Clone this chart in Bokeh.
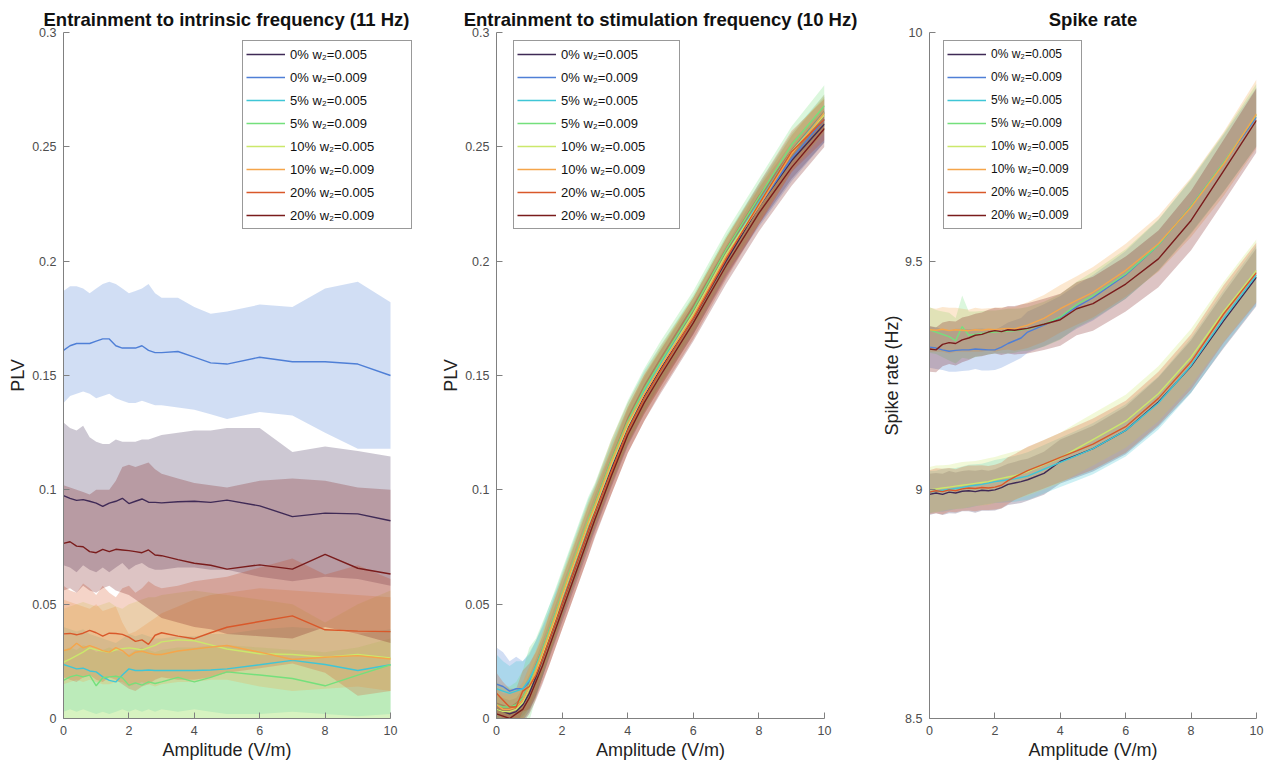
from bokeh.plotting import figure
from bokeh.models import Legend, LegendItem, FixedTicker, Range1d, Title
from bokeh.layouts import row
from bokeh.embed import file_html
from bokeh.resources import INLINE

# ---------------- data ----------------
amplitude = [0, 0.2, 0.4, 0.6, 0.8, 1.0, 1.2, 1.4, 1.6, 1.8, 2.0, 2.2, 2.4, 2.6, 2.8,
             3.0, 3.5, 4, 4.5, 5, 6, 7, 8, 9, 10]

series_labels = ["0% w\u2082=0.005", "0% w\u2082=0.009", "5% w\u2082=0.005", "5% w\u2082=0.009",
                 "10% w\u2082=0.005", "10% w\u2082=0.009", "20% w\u2082=0.005", "20% w\u2082=0.009"]
series_colors = ["#3f2a56", "#4f7fd6", "#3fc6d6", "#74e07c",
                 "#cbe86b", "#f5a54a", "#d9582a", "#7a1c1c"]

# Panel 1: entrainment to intrinsic frequency (PLV): mean, lower and upper band
intr_mean = [
    [0.0975,0.0963,0.0954,0.0957,0.0950,0.0942,0.0928,0.0942,0.0950,0.0963,0.0940,0.0950,0.0960,0.0946,0.0945,0.0943,0.0948,0.0950,0.0945,0.0955,0.0930,0.0883,0.0898,0.0895,0.0865],
    [0.161,0.163,0.164,0.164,0.164,0.165,0.166,0.166,0.163,0.162,0.162,0.162,0.163,0.161,0.160,0.160,0.1605,0.158,0.1555,0.155,0.158,0.156,0.156,0.155,0.150],
    [0.0236,0.0227,0.0217,0.0220,0.0208,0.0204,0.0182,0.0167,0.0160,0.0190,0.0217,0.0210,0.0210,0.0212,0.0210,0.0210,0.0210,0.0210,0.0212,0.0217,0.0235,0.0254,0.0236,0.0210,0.0235],
    [0.0167,0.0182,0.0190,0.0182,0.0190,0.0143,0.0178,0.0182,0.0185,0.0178,0.0146,0.0156,0.0146,0.0160,0.0153,0.0160,0.0180,0.0160,0.0180,0.0204,0.0190,0.0175,0.0143,0.0190,0.0235],
    [0.0246,0.0260,0.0275,0.0290,0.0309,0.0300,0.0295,0.0290,0.0300,0.0305,0.0309,0.0305,0.0300,0.0310,0.0320,0.0335,0.0344,0.0340,0.0322,0.0304,0.0283,0.0280,0.0268,0.0280,0.0265],
    [0.0297,0.0304,0.0329,0.0309,0.0319,0.0309,0.0297,0.0290,0.0310,0.0297,0.0272,0.0290,0.0294,0.0286,0.0280,0.0280,0.0295,0.0304,0.0312,0.0319,0.0290,0.0258,0.0268,0.0275,0.0260],
    [0.0370,0.0372,0.0366,0.0373,0.0385,0.0375,0.0360,0.0373,0.0372,0.0368,0.0356,0.0337,0.0344,0.0324,0.0364,0.0375,0.0360,0.0349,0.0375,0.0399,0.0424,0.0449,0.0388,0.0382,0.0380],
    [0.0766,0.0773,0.0754,0.0751,0.0730,0.0725,0.0740,0.0730,0.0740,0.0737,0.0734,0.0730,0.0725,0.0737,0.0715,0.0712,0.0695,0.0679,0.0670,0.0653,0.0672,0.0653,0.0718,0.0657,0.0632],
]
intr_lo = [
    [0.067,0.066,0.064,0.067,0.065,0.064,0.066,0.064,0.066,0.068,0.065,0.067,0.068,0.066,0.065,0.065,0.066,0.066,0.065,0.065,0.062,0.060,0.062,0.061,0.058],
    [0.138,0.141,0.142,0.143,0.142,0.140,0.141,0.142,0.140,0.139,0.138,0.138,0.139,0.138,0.137,0.137,0.136,0.135,0.133,0.131,0.134,0.1325,0.125,0.118,0.118],
    [0.003,0.004,0.003,0.004,0.003,0.002,0.003,0.002,0.003,0.004,0.003,0.004,0.003,0.004,0.003,0.004,0.003,0.004,0.003,0.002,0.002,0.003,0.002,0.001,0.002],
    [-0.002,-0.003,-0.002,-0.003,-0.002,-0.004,-0.002,-0.003,-0.002,-0.003,-0.002,-0.003,-0.002,-0.003,-0.002,-0.003,-0.002,-0.002,-0.003,-0.004,-0.005,-0.005,-0.006,-0.005,-0.004],
    [-0.003,-0.002,-0.003,-0.002,-0.003,-0.002,-0.003,-0.002,-0.003,-0.002,-0.003,-0.002,-0.003,-0.002,-0.003,-0.002,-0.003,-0.002,-0.003,-0.004,-0.005,-0.006,-0.007,-0.006,-0.008],
    [0.015,0.016,0.017,0.016,0.017,0.016,0.015,0.015,0.016,0.016,0.014,0.015,0.016,0.015,0.014,0.015,0.016,0.016,0.017,0.017,0.014,0.012,0.013,0.014,0.012],
    [0.018,0.017,0.016,0.018,0.019,0.017,0.016,0.018,0.017,0.015,0.013,0.012,0.014,0.015,0.017,0.018,0.017,0.017,0.018,0.020,0.022,0.024,0.020,0.010,0.012],
    [0.056,0.057,0.055,0.058,0.056,0.055,0.057,0.058,0.056,0.055,0.054,0.052,0.050,0.048,0.046,0.044,0.042,0.040,0.039,0.037,0.036,0.035,0.040,0.037,0.033],
]
intr_hi = [
    [0.1295,0.127,0.126,0.128,0.123,0.121,0.120,0.120,0.122,0.121,0.121,0.121,0.122,0.122,0.123,0.124,0.125,0.126,0.126,0.127,0.127,0.1165,0.119,0.117,0.1146],
    [0.187,0.189,0.189,0.188,0.186,0.188,0.190,0.191,0.190,0.188,0.186,0.187,0.188,0.190,0.186,0.184,0.184,0.180,0.177,0.178,0.181,0.180,0.188,0.191,0.182],
    [0.040,0.039,0.038,0.039,0.037,0.036,0.035,0.034,0.033,0.035,0.037,0.036,0.037,0.036,0.035,0.035,0.036,0.036,0.037,0.037,0.039,0.040,0.039,0.037,0.039],
    [0.030,0.031,0.030,0.032,0.031,0.029,0.030,0.031,0.030,0.029,0.028,0.030,0.031,0.030,0.029,0.030,0.031,0.031,0.032,0.032,0.031,0.030,0.029,0.031,0.035],
    [0.048,0.049,0.050,0.051,0.050,0.049,0.050,0.051,0.049,0.048,0.050,0.051,0.052,0.053,0.053,0.054,0.055,0.056,0.055,0.054,0.052,0.050,0.042,0.050,0.056],
    [0.052,0.051,0.050,0.049,0.048,0.050,0.047,0.048,0.049,0.042,0.037,0.038,0.040,0.042,0.044,0.046,0.049,0.052,0.054,0.055,0.057,0.056,0.055,0.054,0.053],
    [0.058,0.056,0.055,0.059,0.057,0.054,0.058,0.055,0.053,0.057,0.058,0.055,0.057,0.060,0.058,0.057,0.058,0.060,0.061,0.062,0.066,0.070,0.063,0.067,0.061],
    [0.102,0.101,0.100,0.099,0.098,0.100,0.100,0.100,0.104,0.110,0.111,0.110,0.111,0.112,0.109,0.107,0.105,0.103,0.102,0.101,0.104,0.105,0.104,0.101,0.100],
]

# Panel 2: entrainment to stimulation frequency (PLV): mean and band half-width
stim_mean = [
    [0.004,0.003,0.002,0.003,0.006,0.011,0.018,0.026,0.034,0.042,0.050,0.058,0.066,0.074,0.082,0.090,0.109,0.127,0.141,0.153,0.175,0.200,0.224,0.244,0.260],
    [0.015,0.014,0.012,0.013,0.013,0.016,0.022,0.029,0.037,0.045,0.053,0.061,0.069,0.077,0.085,0.092,0.111,0.128,0.142,0.154,0.176,0.202,0.224,0.245,0.262],
    [0.013,0.012,0.011,0.012,0.013,0.017,0.023,0.030,0.038,0.046,0.054,0.062,0.070,0.078,0.086,0.093,0.112,0.129,0.143,0.155,0.177,0.203,0.226,0.248,0.265],
    [0.006,0.005,0.005,0.006,0.009,0.015,0.022,0.030,0.038,0.046,0.055,0.063,0.071,0.079,0.087,0.094,0.113,0.130,0.144,0.156,0.179,0.205,0.228,0.251,0.268],
    [0.004,0.003,0.003,0.004,0.007,0.013,0.020,0.028,0.036,0.044,0.053,0.061,0.069,0.077,0.085,0.092,0.111,0.128,0.142,0.154,0.177,0.203,0.225,0.248,0.264],
    [0.006,0.004,0.004,0.005,0.008,0.014,0.021,0.029,0.037,0.045,0.054,0.062,0.070,0.078,0.086,0.093,0.112,0.129,0.142,0.154,0.176,0.202,0.224,0.247,0.265],
    [0.011,0.008,0.005,0.005,0.012,0.014,0.019,0.026,0.034,0.042,0.050,0.058,0.066,0.074,0.082,0.090,0.108,0.126,0.140,0.152,0.175,0.201,0.225,0.248,0.262],
    [0.002,0.001,0.000,0.002,0.004,0.009,0.016,0.023,0.031,0.039,0.047,0.055,0.063,0.071,0.079,0.087,0.106,0.124,0.138,0.150,0.173,0.198,0.221,0.241,0.258],
]
stim_hw = [
    [0.006,0.006,0.006,0.006,0.007,0.008,0.008,0.008,0.008,0.008,0.008,0.008,0.008,0.008,0.008,0.008,0.008,0.008,0.008,0.008,0.007,0.007,0.008,0.008,0.008],
    [0.016,0.015,0.013,0.014,0.012,0.012,0.012,0.011,0.010,0.010,0.009,0.009,0.009,0.009,0.009,0.009,0.009,0.008,0.008,0.008,0.008,0.008,0.009,0.010,0.010],
    [0.015,0.013,0.012,0.013,0.012,0.012,0.011,0.011,0.011,0.010,0.010,0.010,0.010,0.010,0.010,0.009,0.009,0.009,0.009,0.008,0.008,0.008,0.008,0.008,0.008],
    [0.010,0.009,0.009,0.010,0.012,0.016,0.013,0.012,0.011,0.011,0.010,0.010,0.010,0.010,0.010,0.009,0.009,0.009,0.009,0.009,0.008,0.008,0.008,0.008,0.009],
    [0.007,0.007,0.007,0.007,0.008,0.009,0.009,0.009,0.009,0.009,0.009,0.009,0.009,0.009,0.009,0.008,0.008,0.008,0.008,0.008,0.008,0.008,0.008,0.008,0.008],
    [0.007,0.007,0.007,0.007,0.008,0.009,0.009,0.009,0.009,0.009,0.009,0.009,0.009,0.009,0.009,0.009,0.010,0.009,0.009,0.009,0.008,0.008,0.008,0.008,0.008],
    [0.009,0.008,0.008,0.008,0.009,0.010,0.010,0.010,0.011,0.011,0.011,0.011,0.011,0.011,0.011,0.010,0.010,0.010,0.010,0.009,0.009,0.009,0.009,0.009,0.009],
    [0.005,0.005,0.005,0.005,0.006,0.007,0.008,0.008,0.008,0.008,0.008,0.008,0.008,0.008,0.008,0.008,0.008,0.008,0.008,0.008,0.008,0.008,0.008,0.008,0.008],
]

# Panel 3: spike rate (Hz): mean and band half-width
rate_mean = [
    [8.990,8.993,8.990,8.995,8.993,8.997,8.998,8.996,8.999,8.998,9.000,9.005,9.012,9.015,9.018,9.022,9.036,9.062,9.076,9.090,9.130,9.192,9.270,9.370,9.465],
    [9.312,9.310,9.306,9.303,9.305,9.306,9.306,9.308,9.307,9.306,9.306,9.312,9.320,9.326,9.332,9.345,9.360,9.377,9.400,9.420,9.470,9.535,9.620,9.715,9.815],
    [8.995,8.997,8.999,9.001,9.003,9.005,9.008,9.010,9.012,9.015,9.018,9.020,9.022,9.024,9.027,9.030,9.045,9.060,9.075,9.090,9.130,9.190,9.272,9.375,9.470],
    [9.350,9.345,9.340,9.335,9.326,9.357,9.338,9.340,9.342,9.344,9.345,9.346,9.347,9.348,9.350,9.352,9.362,9.378,9.405,9.425,9.472,9.535,9.620,9.716,9.820],
    [9.000,9.002,9.004,9.006,9.008,9.010,9.012,9.014,9.016,9.018,9.022,9.025,9.028,9.031,9.035,9.040,9.055,9.070,9.090,9.110,9.150,9.210,9.290,9.390,9.480],
    [9.350,9.349,9.351,9.348,9.350,9.349,9.348,9.350,9.349,9.351,9.350,9.352,9.353,9.352,9.356,9.360,9.375,9.396,9.414,9.432,9.480,9.538,9.618,9.713,9.822],
    [8.995,8.998,8.996,9.000,8.998,9.002,9.004,9.003,9.005,9.004,9.006,9.010,9.020,9.028,9.035,9.042,9.056,9.071,9.085,9.100,9.138,9.200,9.280,9.385,9.475],
    [9.308,9.306,9.318,9.322,9.320,9.328,9.332,9.338,9.340,9.345,9.348,9.346,9.350,9.349,9.351,9.353,9.362,9.372,9.396,9.407,9.450,9.505,9.589,9.698,9.808],
]
rate_hw = [
    [0.045,0.044,0.045,0.046,0.045,0.044,0.045,0.046,0.045,0.044,0.045,0.046,0.045,0.046,0.047,0.046,0.047,0.048,0.049,0.050,0.052,0.054,0.057,0.060,0.063],
    [0.045,0.046,0.044,0.045,0.047,0.046,0.045,0.044,0.046,0.045,0.044,0.045,0.046,0.045,0.044,0.045,0.046,0.047,0.048,0.050,0.052,0.055,0.058,0.062,0.065],
    [0.046,0.045,0.047,0.046,0.045,0.046,0.047,0.046,0.045,0.046,0.047,0.048,0.049,0.050,0.051,0.052,0.053,0.054,0.055,0.056,0.057,0.058,0.060,0.062,0.065],
    [0.050,0.048,0.050,0.052,0.050,0.068,0.052,0.050,0.049,0.048,0.047,0.048,0.049,0.048,0.047,0.048,0.049,0.050,0.050,0.052,0.054,0.056,0.060,0.064,0.068],
    [0.050,0.051,0.050,0.049,0.050,0.051,0.050,0.049,0.050,0.051,0.050,0.051,0.052,0.053,0.052,0.053,0.054,0.055,0.056,0.057,0.058,0.060,0.062,0.065,0.068],
    [0.048,0.047,0.049,0.050,0.048,0.047,0.046,0.048,0.047,0.046,0.048,0.047,0.046,0.048,0.049,0.050,0.051,0.052,0.053,0.055,0.058,0.061,0.065,0.070,0.075],
    [0.048,0.049,0.050,0.048,0.047,0.048,0.049,0.050,0.049,0.048,0.049,0.050,0.051,0.050,0.051,0.052,0.053,0.054,0.055,0.056,0.057,0.058,0.060,0.063,0.066],
    [0.050,0.049,0.048,0.047,0.048,0.049,0.048,0.047,0.048,0.049,0.050,0.051,0.052,0.053,0.054,0.055,0.056,0.057,0.058,0.059,0.060,0.062,0.065,0.068,0.070],
]

x_ticks = [0, 2, 4, 6, 8, 10]
plv_ticks = [0, 0.05, 0.1, 0.15, 0.2, 0.25, 0.3]
plv_tick_labels = ["0", "0.05", "0.1", "0.15", "0.2", "0.25", "0.3"]
rate_ticks = [8.5, 9, 9.5, 10]
rate_tick_labels = ["8.5", "9", "9.5", "10"]

FONT = "Liberation Sans"
AXIS_COLOR = "#808080"
TICK_TEXT = "#4d4d4d"
BAND_ALPHA = 0.26
X_LABEL = "Amplitude (V/m)"


def make_fig(title, ylabel, yr, yticks, ylabels, width, bl, br, ylabel_standoff,
             x_end=10, left_offsets=None):
    p = figure(width=width, height=769, output_backend="svg", toolbar_location=None,
               x_range=Range1d(0, x_end), y_range=Range1d(*yr),
               min_border_left=bl, min_border_right=br, min_border_top=32,
               min_border_bottom=51, title=title)
    p.title.text_font = FONT
    p.title.text_font_size = "18.5px"
    p.title.text_font_style = "bold"
    p.title.text_color = "#111111"
    p.title.standoff = 5
    if left_offsets is None:
        p.title.align = "center"
    else:
        p.title.align = "left"
        p.title.offset = left_offsets[0]
    p.outline_line_color = None
    p.grid.visible = False
    p.background_fill_color = "white"
    for ax in (p.xaxis[0], p.yaxis[0]):
        ax.axis_line_color = AXIS_COLOR
        ax.major_tick_line_color = AXIS_COLOR
        ax.major_tick_in = 6
        ax.major_tick_out = 0
        ax.minor_tick_line_color = None
        ax.major_label_text_font = FONT
        ax.major_label_text_font_size = "12.5px"
        ax.major_label_text_color = TICK_TEXT
        ax.axis_label_text_font = FONT
        ax.axis_label_text_font_size = "18px"
        ax.axis_label_text_font_style = "normal"
        ax.axis_label_text_color = "#222222"
        ax.major_label_standoff = 7
    p.xaxis[0].ticker = FixedTicker(ticks=x_ticks)
    p.xaxis[0].bounds = (0, 10)
    if left_offsets is None:
        p.xaxis[0].axis_label = X_LABEL
        p.xaxis[0].axis_label_standoff = 2
    else:
        xt = Title(text=X_LABEL, align="left", offset=left_offsets[1],
                   text_font=FONT, text_font_size="18px", text_font_style="normal",
                   text_color="#222222", standoff=0)
        p.add_layout(xt, "below")
    p.yaxis[0].ticker = FixedTicker(ticks=yticks)
    p.yaxis[0].major_label_overrides = {t: l for t, l in zip(yticks, ylabels)}
    p.yaxis[0].axis_label = ylabel
    p.yaxis[0].axis_label_standoff = ylabel_standoff
    return p


def add_series(p, lows, highs, means, legend_xy, font_size, label_width):
    for lo, hi, c in zip(lows, highs, series_colors):
        p.varea(x=amplitude, y1=lo, y2=hi, fill_color=c, fill_alpha=BAND_ALPHA)
    items = []
    for m, c, lab in zip(means, series_colors, series_labels):
        r = p.line(amplitude, m, line_color=c, line_width=1.4)
        items.append(LegendItem(label=lab, renderers=[r]))
    leg = Legend(items=items, location=legend_xy, margin=0, padding=3, spacing=3,
                 glyph_width=39, glyph_height=20, label_height=20, label_standoff=5,
                 label_width=label_width,
                 label_text_font=FONT, label_text_font_size=font_size,
                 label_text_color="#111111",
                 border_line_color="#333333", border_line_width=1,
                 background_fill_color="white", background_fill_alpha=1.0)
    p.add_layout(leg)


# Panel 1 (frame is widened so the legend may reach past x = 10, as in the original)
p1 = make_fig("Entrainment to intrinsic frequency (11 Hz)", "PLV", (0, 0.3),
              plv_ticks, plv_tick_labels, 430, 63, 18, 1,
              x_end=10 * 349 / 327, left_offsets=(-20, 99))
add_series(p1, intr_lo, intr_hi, intr_mean, (179, 489), "13px", 118)

# Panel 2
stim_lo = [[m - h for m, h in zip(ms, hs)] for ms, hs in zip(stim_mean, stim_hw)]
stim_hi = [[m + h for m, h in zip(ms, hs)] for ms, hs in zip(stim_mean, stim_hw)]
p2 = make_fig("Entrainment to stimulation frequency (10 Hz)", "PLV", (0, 0.3),
              plv_ticks, plv_tick_labels, 432, 66, 38, 1)
add_series(p2, stim_lo, stim_hi, stim_mean, (17, 489), "13px", 115)

# Panel 3
rate_lo = [[m - h for m, h in zip(ms, hs)] for ms, hs in zip(rate_mean, rate_hw)]
rate_hi = [[m + h for m, h in zip(ms, hs)] for ms, hs in zip(rate_mean, rate_hw)]
p3 = make_fig("Spike rate", "Spike rate (Hz)", (8.5, 10),
              rate_ticks, rate_tick_labels, 418, 67, 24, 0)
add_series(p3, rate_lo, rate_hi, rate_mean, (14, 489), "12px", 87)

layout = row(p1, p2, p3, spacing=0)
html = file_html(layout, INLINE)
open("out.html", "w").write(html)
